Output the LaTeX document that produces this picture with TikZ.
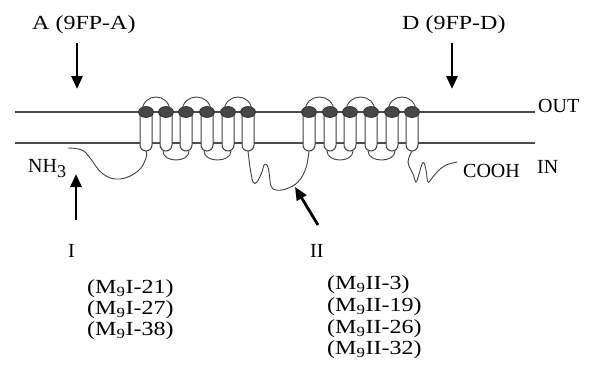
\documentclass[tikz,border=0pt]{standalone}
\usepackage{fontspec}
\setmainfont{Liberation Serif}
\usetikzlibrary{arrows.meta}
\newcommand{\widetxt}[1]{\scalebox{1.2}[1]{#1}}

\begin{document}
\begin{tikzpicture}[x=1pt,y=-1pt,
  membrane/.style={draw=black!70, line width=1.1pt},
  helixbody/.style={draw=black!75, fill=white, line width=1pt},
  helixcap/.style={draw=black!85, fill=black!72, line width=0.6pt},
  loopline/.style={draw=black!75, line width=0.9pt},
  pointer/.style={line width=2.8pt, -{Triangle[length=13pt,width=11pt]}},
  lbl/.style={inner sep=0pt, anchor=base west, font=\fontsize{20}{24}\selectfont},
]
\useasboundingbox (0,0) rectangle (591,381);

% lipid bilayer
\draw[membrane] (15,112) -- (535,112);
\draw[membrane] (15,143) -- (535,143);

% anchor points of the twelve transmembrane helices
\foreach \cx [count=\i] in {146,166,186,207,228,248,309,330,350,371,392,412} {
  \coordinate (t\i) at (\cx,112);
  \coordinate (b\i) at (\cx,151);
}

% extracellular loops
\foreach \a/\b in {1/2,3/4,5/6,7/8,9/10,11/12}
  \draw[loopline] ([xshift=-4pt]t\a) .. controls +(0,-20) and +(0,-20) .. ([xshift=4pt]t\b);

% short intracellular loops
\foreach \a/\b in {2/3,4/5,8/9,10/11}
  \draw[loopline] ([xshift=-3pt]b\a) .. controls +(0,12) and +(0,12) .. ([xshift=3pt]b\b);

% N terminus
\draw[loopline] plot[smooth, tension=0.7] coordinates
  {(68,148) (82,150) (90,158) (103,174) (120,179) (138,171) (146,158) (b1)};

% long intracellular loop between the two halves
\draw[loopline] plot[smooth, tension=0.6] coordinates
  {(b6) (250,167) (253,182) (257,182) (262,172) (264,165) (267,165) (269,172)
   (271,186) (276,190) (286,189) (298,182) (306,168) (b7)};

% C terminus
\draw[loopline] plot[smooth, tension=0.6] coordinates
  {(b12) (408,162) (413,174) (416,182) (419,174) (422,164) (424,163) (426,170)
   (428,182) (432,178) (438,171) (446,165) (457,162)};

% helix bodies and caps
\foreach \cx in {146,166,186,207,228,248,309,330,350,371,392,412} {
  \draw[helixbody] (\cx-6,112) -- (\cx-6,145) arc[start angle=180, end angle=0, radius=6]
    -- (\cx+6,112) -- cycle;
  \draw[helixcap] (\cx,112) ellipse [x radius=7.5, y radius=5.5];
}

% labels
\node[lbl] (labA) at (32,29) {\widetxt{A (9FP-A)}};
\node[lbl] (labD) at (402,29) {\widetxt{D (9FP-D)}};
\node[lbl] (out) at (538,112) {OUT};
\node[lbl] (in) at (537,173) {IN};
\node[lbl] (cooh) at (463,177) {COOH};
\node[lbl] (nh) at (28,172) {NH\raisebox{-5pt}{\fontsize{18}{20}\selectfont 3}};
\node[lbl] (one) at (68,257) {I};
\node[lbl] (two) at (310,257) {II};
\node[lbl] (m1a) at (87,293) {\widetxt{(M\textsubscript{9}I-21)}};
\node[lbl] (m1b) at (87,314) {\widetxt{(M\textsubscript{9}I-27)}};
\node[lbl] (m1c) at (87,335) {\widetxt{(M\textsubscript{9}I-38)}};
\node[lbl] (m2a) at (327,289) {\widetxt{(M\textsubscript{9}II-3)}};
\node[lbl] (m2b) at (327,311) {\widetxt{(M\textsubscript{9}II-19)}};
\node[lbl] (m2c) at (327,333) {\widetxt{(M\textsubscript{9}II-26)}};
\node[lbl] (m2d) at (327,354) {\widetxt{(M\textsubscript{9}II-32)}};

% cleavage and insertion arrows
\coordinate (aS) at (77,43);  \coordinate (aE) at (77,89);
\coordinate (dS) at (452,43); \coordinate (dE) at (452,89);
\coordinate (iS) at (76,220); \coordinate (iE) at (76,174);
\coordinate (jS) at (318,225); \coordinate (jE) at (295,187);
\draw[pointer] (aS) -- (aE);
\draw[pointer] (dS) -- (dE);
\draw[pointer] (iS) -- (iE);
\draw[pointer] (jS) -- (jE);
\end{tikzpicture}
\end{document}
